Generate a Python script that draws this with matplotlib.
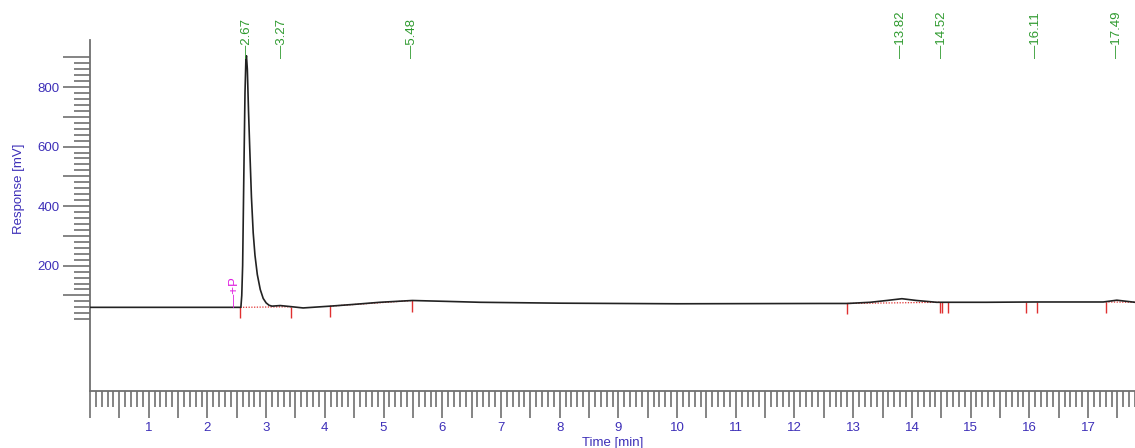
import numpy as np
import matplotlib
matplotlib.use("Agg")
import matplotlib.pyplot as plt
from matplotlib.ticker import FixedLocator, FixedFormatter

plt.rcParams['font.family'] = ['Liberation Sans', 'DejaVu Sans']

# chromatogram trace (time [min], response [mV])
t_trace = [0.0, 1.0, 2.0, 2.50, 2.57, 2.585, 2.60, 2.62, 2.64, 2.655, 2.665,
           2.68, 2.70, 2.72, 2.75, 2.78, 2.81, 2.85, 2.90, 2.95, 3.00, 3.05,
           3.10, 3.24, 3.44, 3.63, 4.09, 4.50, 4.94, 5.49, 6.08, 6.64, 8.0,
           10.0, 12.44, 12.90, 13.29, 13.57, 13.83, 14.08, 14.42, 15.27, 16.07,
           17.26, 17.49, 17.80]
r_trace = [60, 60, 60, 60, 60, 100, 200, 500, 780, 890, 905,
           860, 720, 600, 430, 310, 235, 170, 120, 90, 75, 67,
           64, 66, 62, 58, 64, 70, 77, 83, 80, 77, 74,
           72, 73, 73, 77, 83, 89, 83, 77, 77, 78,
           78, 84, 77]

# peak retention times (green labels)
peak_rt = [2.67, 3.27, 5.48, 13.82, 14.52, 16.11, 17.49]

# integration marks (red ticks) and the baseline value where they start
mark_t = [2.56, 3.43, 4.09, 5.49, 12.90, 14.47, 14.51, 14.62, 15.95, 16.13, 17.30]
mark_r = [60, 62, 64, 83, 73, 77, 77, 77, 78, 78, 78]

# dotted baselines under the integrated peaks
base_t = [(2.56, 3.43), (4.09, 5.49), (12.90, 14.47), (17.30, 17.80)]
base_r = [(60, 62), (64, 83), (73, 77), (78, 77)]

blue = '#3d2fb8'
green = '#2e9a2e'
red = '#e03030'
grey = '#707070'

fig = plt.figure(figsize=(11.35, 4.48), dpi=100)
ax = fig.add_axes([90/1135, 57/448, 1045/1135, 351/448])

ax.plot(t_trace, r_trace, color='#222222', lw=1.2, zorder=3)

ax.vlines(mark_t, np.array(mark_r) - 37, mark_r, color=red, lw=1.0, zorder=2)
for (t0, t1), (r0, r1) in zip(base_t, base_r):
    ax.plot([t0, t1], [r0, r1], color=red, lw=0.9, ls=(0, (1, 1.2)), zorder=2)

for rt in peak_rt:
    ax.text(rt, 898, '\u2014' + f'{rt:.2f}', rotation=90, ha='center', va='bottom',
            color=green, fontsize=9.5, clip_on=False)

ax.text(2.47, 60, '\u2014+P', rotation=90, ha='center', va='bottom',
        color='#e020e0', fontsize=9.5)

ax.set_xlim(0, 17.8)
ax.set_ylim(-221, 958)

for s in ['top', 'right']:
    ax.spines[s].set_visible(False)
for s in ['left', 'bottom']:
    ax.spines[s].set_color(grey)
    ax.spines[s].set_linewidth(1.3)

# x ticks
x_major = np.arange(0, 18, 0.5)
x_lab = [str(int(v)) if (v == int(v) and v > 0) else '' for v in x_major]
ax.xaxis.set_major_locator(FixedLocator(x_major))
ax.xaxis.set_major_formatter(FixedFormatter(x_lab))
ax.xaxis.set_minor_locator(FixedLocator(np.round(np.arange(0, 17.85, 0.1), 2)))

# y ticks
y_major = np.arange(100, 1000, 100)
y_lab = [str(v) if v in (200, 400, 600, 800) else '' for v in y_major]
ax.yaxis.set_major_locator(FixedLocator(y_major))
ax.yaxis.set_major_formatter(FixedFormatter(y_lab))
ax.yaxis.set_minor_locator(FixedLocator(np.arange(20, 901, 20)))

ax.tick_params(axis='both', which='major', direction='out', length=19.5, width=1.2,
               color=grey, labelcolor=blue, labelsize=9.5, pad=2.5)
ax.tick_params(axis='both', which='minor', direction='out', length=11.5, width=1.2,
               color=grey)

ax.set_ylabel('Response [mV]', color=blue, fontsize=9.5)
ax.yaxis.set_label_coords(-0.062, 0.575)
ax.set_xlabel('Time [min]', color=blue, fontsize=9.5)
ax.xaxis.set_label_coords(0.5, -0.13)

fig.savefig('out.png', dpi=100)
